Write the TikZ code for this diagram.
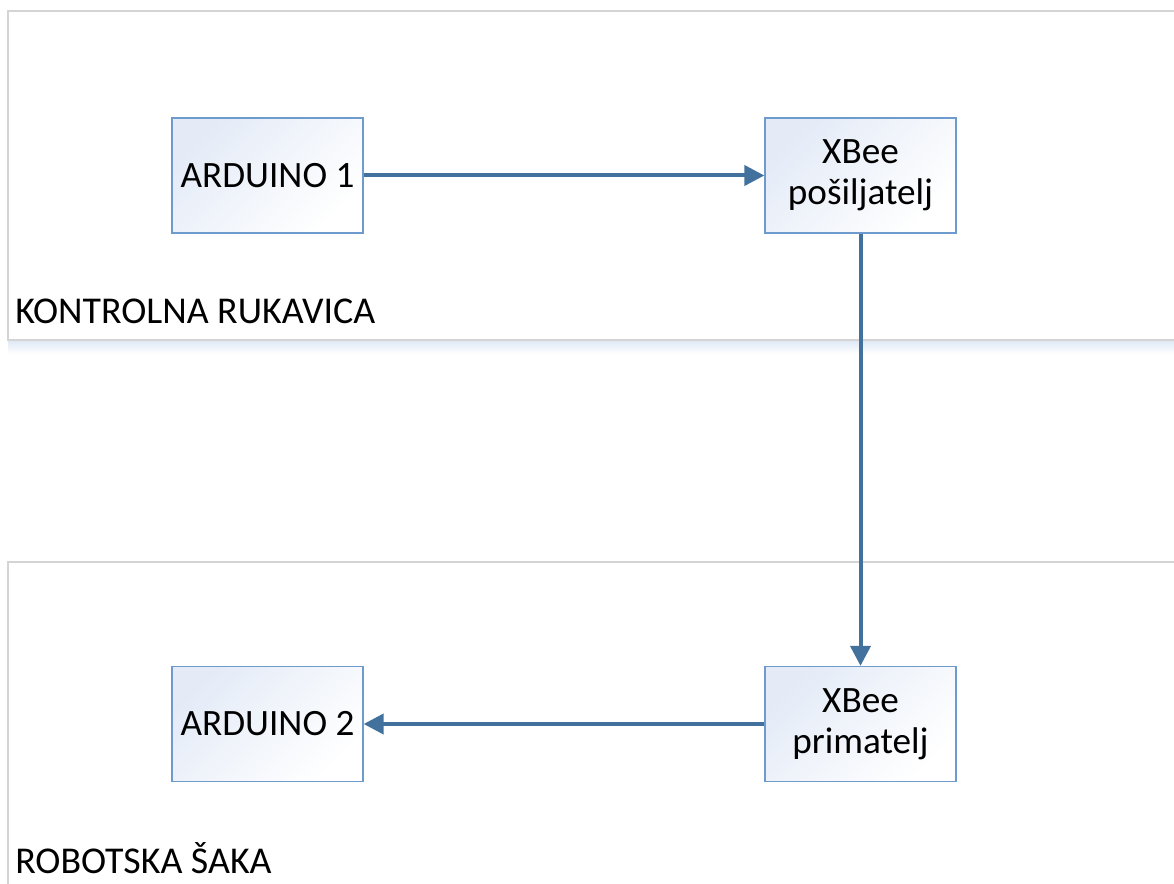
\documentclass[tikz,border=0pt]{standalone}
\usepackage{fontspec}
\setmainfont{Carlito}
\usetikzlibrary{arrows.meta}
\definecolor{linkblue}{HTML}{41719C}
\definecolor{boxedge}{HTML}{6E9BCD}
\definecolor{boxfill}{HTML}{E4EBF7}
\definecolor{frameedge}{HTML}{D4D4D4}
\definecolor{frameshadow}{HTML}{DDE8F5}

\begin{document}
\begin{tikzpicture}[x=0.75pt,y=-0.75pt,
  modul/.style={draw=boxedge,line width=1.2pt,left color=boxfill,right color=white,
    shading angle=45,minimum width=143pt,minimum height=86pt,inner sep=0pt,
    align=center,font=\fontsize{27.9}{30.5}\selectfont},
  okvir/.style={draw=frameedge,line width=0.9pt},
  oznaka/.style={anchor=base west,inner sep=0pt,font=\fontsize{28.4}{30.5}\selectfont},
  veza/.style={draw=linkblue,line width=3pt,-{Triangle[length=15pt,width=15pt]}}]
\useasboundingbox (0,0) rectangle (1174,884);
% okviri
\shade[top color=frameshadow,bottom color=white] (8,340) rectangle (1180,354);
\draw[okvir] (1180,11) -- (8,11) -- (8,340) -- (1180,340);
\draw[okvir] (1180,562) -- (8,562) -- (8,900);
\node[oznaka] (rukavica) at (15,323) {KONTROLNA RUKAVICA};
\node[oznaka] (saka) at (15,873) {ROBOTSKA ŠAKA};
% moduli
\node[modul] (ard1) at (267.5,175.5) {ARDUINO 1};
\node[modul] (xpos) at (860.5,175.5) {XBee\\pošiljatelj};
\node[modul] (ard2) at (267.5,724) {ARDUINO 2};
\node[modul] (xprim) at (860.5,724) {XBee\\primatelj};
% veze
\draw[veza] (ard1) -- (xpos);
\draw[veza] (xpos) -- (xprim);
\draw[veza] (xprim) -- (ard2);
\end{tikzpicture}
\end{document}
